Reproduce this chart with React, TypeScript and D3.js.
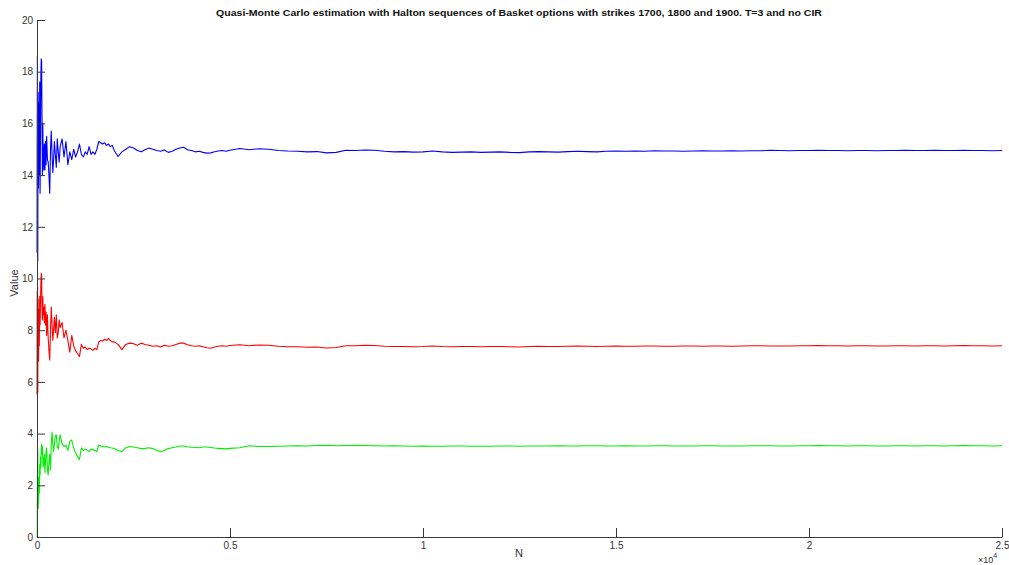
import React, { useEffect, useRef } from "react";
import * as d3 from "d3";

// Sample counts N (x axis)
const nValues: number[] = [
  // early, dense
  1, 5, 10, 15, 20, 25, 30, 40, 50, 60,
  70, 80, 90, 100, 110, 120, 130, 140, 150, 160,
  175, 190, 205, 220, 235, 250, 270, 290, 310, 330,
  350, 370, 390, 410, 430, 450, 475, 500, 525, 550,
  575, 600,
  // 650..2000 step 50
  650, 700, 750, 800, 850, 900, 950, 1000, 1050, 1100,
  1150, 1200, 1250, 1300, 1350, 1400, 1450, 1500, 1550, 1600,
  1650, 1700, 1750, 1800, 1850, 1900, 1950, 2000,
  // 2100..5000 step 100
  2100, 2200, 2300, 2400, 2500, 2600, 2700, 2800, 2900, 3000,
  3100, 3200, 3300, 3400, 3500, 3600, 3700, 3800, 3900, 4000,
  4100, 4200, 4300, 4400, 4500, 4600, 4700, 4800, 4900, 5000,
  // 5250..25000 step 250
  5250, 5500, 5750, 6000, 6250, 6500, 6750, 7000, 7250, 7500,
  7750, 8000, 8250, 8500, 8750, 9000, 9250, 9500, 9750, 10000,
  10250, 10500, 10750, 11000, 11250, 11500, 11750, 12000, 12250, 12500,
  12750, 13000, 13250, 13500, 13750, 14000, 14250, 14500, 14750, 15000,
  15250, 15500, 15750, 16000, 16250, 16500, 16750, 17000, 17250, 17500,
  17750, 18000, 18250, 18500, 18750, 19000, 19250, 19500, 19750, 20000,
  20250, 20500, 20750, 21000, 21250, 21500, 21750, 22000, 22250, 22500,
  22750, 23000, 23250, 23500, 23750, 24000, 24250, 24500, 24750, 25000,
];

// Strike 1700 (blue)
const strike1700: number[] = [
  11.0, 15.0, 18.6, 13.0, 10.7, 14.5, 17.2, 13.5, 16.8, 14.0,
  17.6, 13.3, 15.5, 17.8, 18.5, 18.4, 16.2, 14.0, 16.0, 14.8,
  14.2, 15.2, 14.2, 15.3, 14.4, 15.5, 14.6, 14.5, 14.0, 13.3,
  15.0, 15.7, 14.8, 14.1, 14.6, 15.3, 14.8, 14.3, 15.4, 14.9,
  14.5, 15.1,
  15.4, 14.7, 15.3, 14.4, 14.9, 14.6, 15.0, 14.7, 14.9, 15.2,
  14.8, 14.7, 14.9, 14.8, 15.1, 14.8, 14.9, 14.8, 15.0, 15.3,
  15.25, 15.2, 15.25, 15.15, 15.2, 15.1, 15.15, 14.95,
  14.72, 14.9, 15.0, 15.1, 15.05, 14.95, 14.9, 14.98, 15.05, 15.0,
  14.95, 14.92, 14.97, 14.88, 14.92, 15.0, 15.05, 15.08, 14.98, 14.95,
  14.9, 14.92, 14.88, 14.85, 14.86, 14.9, 14.93, 14.95, 14.92, 14.96,
  15.03, 14.98, 15.02, 15.0, 14.95, 14.93, 14.92, 14.9, 14.91, 14.86,
  14.88, 14.96, 14.95, 14.97, 14.96, 14.92, 14.9, 14.91, 14.89, 14.9,
  14.93, 14.9, 14.88, 14.89, 14.9, 14.88, 14.89, 14.9, 14.88, 14.87,
  14.9, 14.91, 14.9, 14.89, 14.91, 14.92, 14.91, 14.9, 14.92, 14.93,
  14.92, 14.93, 14.92, 14.94, 14.93, 14.93, 14.92, 14.93, 14.94, 14.93,
  14.93, 14.94, 14.93, 14.94, 14.94, 14.96, 14.95, 14.94, 14.95, 14.95,
  14.96, 14.95, 14.95, 14.94, 14.95, 14.95, 14.94, 14.95, 14.95, 14.96,
  14.95, 14.95, 14.96, 14.95, 14.95, 14.96, 14.95, 14.95, 14.94, 14.95,
];

// Strike 1800 (red)
const strike1800: number[] = [
  5.5, 9.5, 6.5, 9.7, 5.6, 8.0, 9.2, 6.8, 8.8, 7.4,
  9.3, 8.2, 9.0, 9.8, 10.2, 10.1, 8.9, 8.4, 9.3, 8.6,
  8.9, 8.3, 9.0, 8.2, 8.7, 7.8, 8.6, 7.7, 7.2, 6.85,
  8.0, 8.9, 8.2, 7.6, 8.0, 8.5, 7.9, 8.6, 7.7, 7.9,
  8.4, 8.1,
  8.3, 7.7, 8.0, 7.6, 7.15, 7.8, 7.4, 7.2, 7.1, 6.98,
  7.45, 7.3, 7.35, 7.25, 7.3, 7.28, 7.22, 7.3, 7.25, 7.55,
  7.6, 7.58, 7.65, 7.6, 7.68, 7.6, 7.55, 7.55,
  7.45, 7.25, 7.45, 7.5, 7.48, 7.42, 7.5, 7.45, 7.42, 7.38,
  7.4, 7.35, 7.42, 7.38, 7.4, 7.45, 7.5, 7.5, 7.44, 7.4,
  7.38, 7.4, 7.36, 7.32, 7.3, 7.35, 7.38, 7.4, 7.38, 7.41,
  7.44, 7.4, 7.43, 7.42, 7.38, 7.36, 7.36, 7.34, 7.35, 7.31,
  7.33, 7.4, 7.4, 7.42, 7.41, 7.38, 7.37, 7.37, 7.36, 7.37,
  7.39, 7.37, 7.36, 7.37, 7.37, 7.36, 7.37, 7.37, 7.36, 7.35,
  7.37, 7.38, 7.37, 7.37, 7.38, 7.39, 7.38, 7.37, 7.38, 7.39,
  7.38, 7.38, 7.39, 7.39, 7.38, 7.38, 7.39, 7.39, 7.38, 7.39,
  7.39, 7.38, 7.39, 7.4, 7.4, 7.39, 7.39, 7.39, 7.4, 7.4,
  7.41, 7.4, 7.4, 7.39, 7.4, 7.4, 7.39, 7.39, 7.4, 7.4,
  7.39, 7.4, 7.4, 7.39, 7.4, 7.41, 7.4, 7.4, 7.39, 7.4,
];

// Strike 1900 (green)
const strike1900: number[] = [
  0, 0, 1.8, 2.9, 3.4, 2.2, 1.1, 1.5, 2.3, 1.7,
  2.8, 2.4, 3.1, 2.7, 3.3, 3.6, 3.2, 3.5, 3.0, 2.7,
  2.9, 3.2, 2.5, 2.9, 3.3, 3.45, 2.6, 2.4, 2.9, 3.2,
  2.6, 3.6, 4.05, 3.6, 3.3, 3.6, 3.9, 3.95, 3.5, 3.4,
  3.7, 3.95,
  3.6, 3.5, 3.55, 3.35, 3.7, 3.75, 3.45, 3.25, 3.1, 3.0,
  3.45, 3.35, 3.4, 3.36, 3.3, 3.4, 3.38, 3.35, 3.3, 3.56,
  3.52, 3.5, 3.48, 3.5, 3.47, 3.45, 3.44, 3.42,
  3.35, 3.3, 3.45, 3.5, 3.48, 3.45, 3.42, 3.43, 3.45, 3.42,
  3.36, 3.3, 3.35, 3.42, 3.45, 3.48, 3.52, 3.52, 3.49, 3.47,
  3.46, 3.45, 3.48, 3.48, 3.46, 3.44, 3.43, 3.42, 3.41, 3.43,
  3.45, 3.53, 3.5, 3.5, 3.51, 3.52, 3.53, 3.52, 3.54, 3.55,
  3.53, 3.54, 3.55, 3.54, 3.53, 3.52, 3.53, 3.52, 3.51, 3.52,
  3.51, 3.51, 3.52, 3.52, 3.51, 3.51, 3.51, 3.52, 3.52, 3.51,
  3.52, 3.52, 3.52, 3.53, 3.52, 3.52, 3.53, 3.53, 3.52, 3.52,
  3.53, 3.52, 3.52, 3.53, 3.53, 3.52, 3.52, 3.52, 3.53, 3.53,
  3.52, 3.52, 3.52, 3.53, 3.53, 3.53, 3.52, 3.52, 3.53, 3.53,
  3.54, 3.53, 3.53, 3.52, 3.53, 3.53, 3.52, 3.52, 3.53, 3.53,
  3.52, 3.53, 3.53, 3.52, 3.53, 3.54, 3.53, 3.53, 3.52, 3.53,
];

const seriesColors: string[] = ["#0000ff", "#ff0000", "#00ee00"];
const xTickValues: number[] = [0, 5000, 10000, 15000, 20000, 25000];
const xTickLabels: string[] = ["0", "0.5", "1", "1.5", "2", "2.5"];
const yTickValues: number[] = [0, 2, 4, 6, 8, 10, 12, 14, 16, 18, 20];

const TITLE =
  "Quasi-Monte Carlo estimation with Halton sequences of Basket options with strikes 1700, 1800 and 1900. T=3 and no CIR";

const W = 1009;
const H = 565;
const M = { left: 37, right: 7, top: 20, bottom: 28 };
const FONT = "'Liberation Sans', Arial, Helvetica, sans-serif";
const AXIS_COLOR = "#3a3a3a";

export default function App() {
  const xAxisRef = useRef<SVGGElement>(null);
  const yAxisRef = useRef<SVGGElement>(null);

  const x = d3.scaleLinear().domain([0, 25000]).range([M.left, W - M.right]);
  const y = d3.scaleLinear().domain([0, 20]).range([H - M.bottom, M.top]);

  const series = [strike1700, strike1800, strike1900];
  const line = d3
    .line<[number, number]>()
    .x((d) => x(d[0]))
    .y((d) => y(d[1]));

  useEffect(() => {
    if (xAxisRef.current) {
      const ax = d3
        .axisBottom(x)
        .tickValues(xTickValues)
        .tickFormat((d, i) => xTickLabels[i])
        .tickSizeInner(-9)
        .tickSizeOuter(0)
        .tickPadding(5);
      const g = d3.select(xAxisRef.current);
      g.call(ax as any);
      g.selectAll("path,line").attr("stroke", AXIS_COLOR).attr("stroke-width", 1);
      g.selectAll("text")
        .attr("fill", "#333")
        .style("font-family", FONT)
        .style("font-size", "10px");
    }
    if (yAxisRef.current) {
      const ay = d3
        .axisLeft(y)
        .tickValues(yTickValues)
        .tickFormat(d3.format("d") as any)
        .tickSizeInner(-8)
        .tickSizeOuter(0)
        .tickPadding(4);
      const g = d3.select(yAxisRef.current);
      g.call(ay as any);
      g.selectAll("path,line").attr("stroke", AXIS_COLOR).attr("stroke-width", 1);
      g.selectAll("text")
        .attr("fill", "#333")
        .style("font-family", FONT)
        .style("font-size", "10px");
    }
  }, []);

  return (
    <svg
      width={W}
      height={H}
      style={{ position: "absolute", left: 0, top: 0, background: "#fff" }}
    >
      <rect x={0} y={0} width={W} height={H} fill="#fff" />
      {series.map((vals, si) => {
        const pts: [number, number][] = nValues
          .slice(0, vals.length)
          .map((n, i) => [n, vals[i]]);
        return (
          <path
            key={si}
            d={line(pts) || ""}
            fill="none"
            stroke={seriesColors[si]}
            strokeWidth={1.1}
            strokeLinejoin="round"
          />
        );
      })}
      <g ref={xAxisRef} transform={`translate(0,${H - M.bottom})`} />
      <g ref={yAxisRef} transform={`translate(${M.left},0)`} />
      <text
        x={519}
        y={16}
        textAnchor="middle"
        fontFamily={FONT}
        fontWeight="bold"
        fontSize={9.5}
        fill="#111"
        textLength={606}
        lengthAdjust="spacingAndGlyphs"
      >
        {TITLE}
      </text>
      <text
        x={519}
        y={557}
        textAnchor="middle"
        fontFamily={FONT}
        fontSize={11}
        fill="#333"
      >
        N
      </text>
      <text
        transform={`translate(18,${283}) rotate(-90)`}
        textAnchor="middle"
        fontFamily={FONT}
        fontSize={11}
        fill="#333"
      >
        Value
      </text>
      <text x={978} y={563} fontFamily={FONT} fontSize={9} fill="#333">
        ×10
        <tspan fontSize={7} dy={-5}>
          4
        </tspan>
      </text>
    </svg>
  );
}
